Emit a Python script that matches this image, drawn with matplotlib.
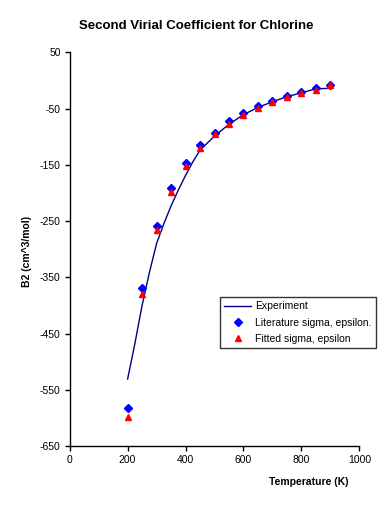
import matplotlib
matplotlib.use("Agg")
import matplotlib.pyplot as plt

plt.rcParams['font.family'] = ['Liberation Sans', 'DejaVu Sans']
plt.rcParams['axes.unicode_minus'] = False

# Experiment curve, T in K, B2 in cm^3/mol
exp_temps = [200, 225, 250, 275, 300, 325, 350, 375, 400, 425, 450, 500, 550,
             600, 650, 700, 750, 800, 850, 900]
experiment = [-531, -468, -400, -342, -290, -255, -223, -195, -169, -145, -124,
              -99, -78, -61, -48, -38, -29, -22, -15, -14]

# Calculated points
temps = [200, 250, 300, 350, 400, 450, 500, 550, 600, 650, 700, 750, 800, 850, 900]
literature = [-583, -369, -259, -192, -147, -115, -93, -72, -58.5, -45.5, -36, -27.7, -20.6, -13.5, -8]
fitted = [-598, -380, -266, -198, -152, -120, -96, -77, -61.5, -48.5, -38, -29, -22, -17, -8]

fig = plt.figure(figsize=(3.84, 5.28), dpi=100)
ax = fig.add_axes([0.1815, 0.1553, 0.7542, 0.7457])

ax.plot(exp_temps, experiment, color='#000080', lw=1.0, label='Experiment')
ax.plot(temps, literature, 'D', color='#0000ff', ms=3.8, ls='none',
        label='Literature sigma, epsilon.')
ax.plot(temps, fitted, '^', color='#ff0000', ms=5, ls='none',
        label='Fitted sigma, epsilon')

ax.set_xlim(0, 1000)
ax.set_ylim(-650, 50)
ax.set_xticks([0, 200, 400, 600, 800, 1000])
ax.set_yticks(range(-650, 51, 100))
ax.spines['top'].set_visible(False)
ax.spines['right'].set_visible(False)
for s in ('left', 'bottom'):
    ax.spines[s].set_linewidth(1.0)
ax.tick_params(direction='out', length=3.5, width=1.0, labelsize=7.5, pad=3)

fig.text(0.512, 0.951, 'Second Virial Coefficient for Chlorine',
         ha='center', va='center', fontsize=9.5, fontweight='bold')
fig.text(0.07, 0.523, 'B2 (cm^3/mol)', rotation=90, ha='center', va='center',
         fontsize=7.5, fontweight='bold')
fig.text(0.805, 0.088, 'Temperature (K)', ha='center', va='center',
         fontsize=7.5, fontweight='bold')

leg = ax.legend(loc='upper left', bbox_to_anchor=(220 / 384, 1 - 297.3 / 528),
                bbox_transform=fig.transFigure, fontsize=7.5, frameon=True,
                fancybox=False, edgecolor='black', borderpad=0.4,
                handlelength=2.6, handletextpad=0.4, labelspacing=0.6,
                borderaxespad=0, numpoints=1)
leg.get_frame().set_linewidth(1.0)

fig.savefig('out.png', dpi=100)
